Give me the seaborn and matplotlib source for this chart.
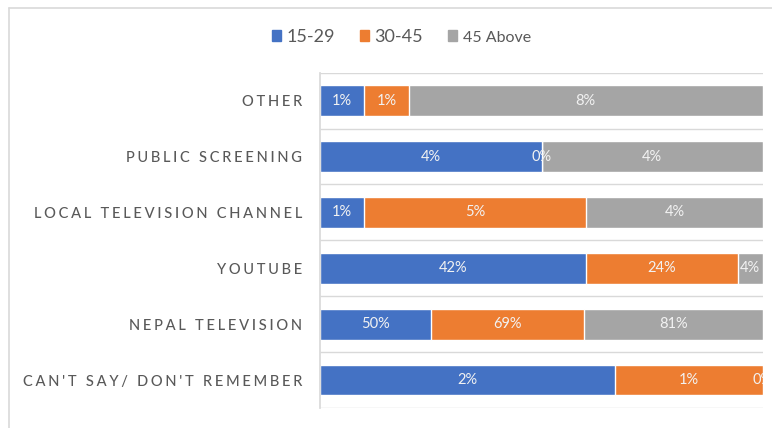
import numpy as np
import pandas as pd
import matplotlib
matplotlib.use("Agg")
import matplotlib.pyplot as plt
from matplotlib.lines import Line2D
from matplotlib.patches import Patch
import seaborn as sns

# Data
sources = ["OTHER", "PUBLIC SCREENING", "LOCAL TELEVISION CHANNEL",
           "YOUTUBE", "NEPAL TELEVISION", "CAN'T SAY/ DON'T REMEMBER"]
groups = ["15-29", "30-45", "45 Above"]
age_15_29 = [1, 4, 1, 42, 50, 2]
age_30_45 = [1, 0, 5, 24, 69, 1]
age_45_up = [8, 4, 4, 4, 81, 0]
colors = ["#4472C4", "#ED7D31", "#A5A5A5"]

sns.set_theme(style="white")
plt.rcParams["font.family"] = ["Lato", "DejaVu Sans"]

vals = np.array([age_15_29, age_30_45, age_45_up], dtype=float)
share = vals / vals.sum(axis=0)
cum = np.cumsum(share, axis=0)

fig = plt.figure(figsize=(7.72, 4.28), dpi=100)
ax = fig.add_axes([320 / 772, 1 - 408 / 428, 443 / 772, (408 - 72.7) / 428])

# stacked 100% bars: draw the running totals, longest first
for k in range(2, -1, -1):
    df = pd.DataFrame({"source": sources, "cum": cum[k]})
    sns.barplot(data=df, x="cum", y="source", color=colors[k], orient="h",
                width=0.55, saturation=1, ax=ax, zorder=2)

# data labels
for k in range(3):
    for i in range(len(sources)):
        start = cum[k][i] - share[k][i]
        ax.text(start + share[k][i] / 2, i, f"{int(vals[k][i])}%",
                ha="center", va="center", color="#F2F2F2", fontsize=10.5,
                clip_on=True, zorder=3)

ax.set_xlim(0, 1)
ax.set_ylim(len(sources) - 0.5, -0.5)
ax.hlines(np.arange(-0.5, len(sources)), 0, 1, color="#D9D9D9", lw=1, zorder=0)
for s in ["top", "right", "bottom"]:
    ax.spines[s].set_visible(False)
ax.spines["left"].set_color("#D9D9D9")
ax.set_xticks([])
ax.set_xlabel("")
ax.set_ylabel("")
ax.set_yticks(range(len(sources)))
spaced = ["\u2009\u200a".join(list(s)) for s in sources]
ax.set_yticklabels(spaced, fontsize=10.5, color="#595959", fontweight="medium")
ax.tick_params(axis="y", length=0, pad=13)

handles = [Patch(color=c) for c in colors]
leg = fig.legend(handles, groups, loc="center", bbox_to_anchor=(0.52, 1 - 37 / 428),
                 ncol=3, frameon=False, handlelength=0.5, handleheight=0.5,
                 handletextpad=0.3, columnspacing=1.4, fontsize=13)
for t in leg.get_texts():
    t.set_color("#595959")
leg.get_texts()[2].set_fontsize(11.5)

# outer chart border (cropped on right and bottom)
fig.add_artist(Line2D([9 / 772, 1], [1 - 7.5 / 428] * 2, color="#D9D9D9", lw=1.2))
fig.add_artist(Line2D([9 / 772] * 2, [0, 1 - 7.5 / 428], color="#D9D9D9", lw=1.2))

fig.savefig("out.png", dpi=100)
